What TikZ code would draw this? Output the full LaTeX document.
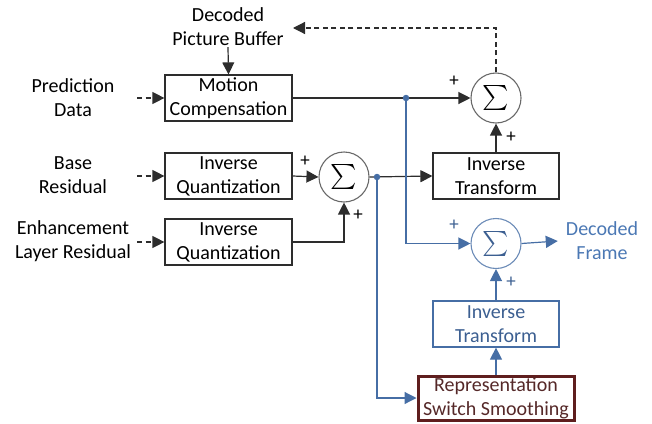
\documentclass[tikz,border=0pt]{standalone}
\usepackage{fontspec}
\usepackage{graphicx}
\setmainfont{Carlito}
\usetikzlibrary{arrows.meta}

\definecolor{wire}{RGB}{45,45,45}
\definecolor{ringgray}{RGB}{105,105,105}
\definecolor{bluewire}{RGB}{70,110,165}
\definecolor{bluetext}{RGB}{75,120,180}
\definecolor{blueink}{RGB}{60,95,145}
\definecolor{maroon}{RGB}{95,30,30}
\definecolor{maroontext}{RGB}{85,40,40}

\newcommand{\bigsum}{\scalebox{2.5}{$\sum$}}

\tikzset{
  x=1pt, y=-1pt,
  lbl/.style={font=\fontsize{20}{24}\selectfont, align=center, inner sep=1pt},
  blk/.style={draw=wire, line width=1.2pt, minimum width=127pt, minimum height=46pt,
              inner sep=0pt, align=center, font=\fontsize{20}{24}\selectfont},
  bblk/.style={blk, draw=bluewire, text=blueink},
  rssblk/.style={blk, draw=maroon, line width=3pt, text=maroontext, minimum width=156pt, minimum height=44pt},
  summer/.style={circle, draw=ringgray, line width=1.1pt, minimum size=50pt, inner sep=0pt},
  bsummer/.style={summer, draw=bluewire!80, text=blueink},
  tip/.style={-{Triangle[length=12pt,width=12pt]}},
  conn/.style={draw=wire, line width=1.2pt},
  bconn/.style={draw=bluewire, line width=1.2pt},
  dconn/.style={conn, dash pattern=on 5pt off 3.5pt},
  sign/.style={font=\fontsize{19}{20}\selectfont, inner sep=0pt},
  jdot/.style={circle, fill=bluewire, inner sep=0pt, minimum size=6.5pt}
}

\begin{document}
\begin{tikzpicture}
\useasboundingbox (0,0) rectangle (652,423);

% input labels
\node[lbl] (pd)  at (73,98)  {Prediction\\Data};
\node[lbl] (br)  at (73,175) {Base\\Residual};
\node[lbl] (elr) at (73,241) {Enhancement\\Layer Residual};
\node[lbl] (dpb) at (228,27) {Decoded\\Picture Buffer};

% base layer blocks
\node[blk] (mc)  at (228.5,98)  {Motion\\Compensation};
\node[blk] (iqb) at (228.5,176) {Inverse\\Quantization};
\node[blk] (iqe) at (228.5,242) {Inverse\\Quantization};
\node[summer] (s1) at (344,177) {\bigsum};
\node[blk, minimum width=126pt] (itt) at (496,176) {Inverse\\Transform};
\node[summer] (st) at (496,98) {\bigsum};

% enhancement path blocks
\node[bsummer] (sb) at (496,243.5) {\bigsum};
\node[bblk, minimum width=126pt] (itb) at (496,324) {Inverse\\Transform};
\node[rssblk] (rss) at (496,398) {Representation\\Switch Smoothing};
\node[lbl, text=bluetext] (frame) at (602,241) {Decoded\\Frame};

% entry points of the dashed inputs
\coordinate (pdin)  at (137,98);
\coordinate (brin)  at (137,176);
\coordinate (elrin) at (137,242);
\coordinate (fb)    at (293,28);

% junctions
\coordinate (j1) at (406,98);
\coordinate (j2) at (377,177);

% dashed inputs
\draw[dconn, tip] (pdin) -- (mc.west);
\draw[dconn, tip] (brin) -- (iqb.west);
\draw[dconn, tip] (elrin) -- (iqe.west);
\draw[dconn, tip] (st.north) |- (fb);

% base layer connectors
\draw[conn, tip] (dpb.south) -- (mc.north);
\draw[conn, tip] (mc.east) -- (st.west);
\draw[conn, tip] (iqb.east) -- (s1.west);
\draw[conn, tip] (iqe.east) -| (s1.south);
\draw[conn, tip] (s1.east) -- (itt.west);
\draw[conn, tip] (itt.north) -- (st.south);

% enhancement connectors
\draw[bconn, tip] (j1) |- (sb.west);
\draw[bconn, tip] (j2) |- (rss.west);
\draw[bconn, tip] (rss.north) -- (itb.south);
\draw[bconn, tip] (itb.north) -- (sb.south);
\draw[bconn, tip] (sb.east) -- ([xshift=-7pt]frame.west);

\node[jdot] at (j1) {};
\node[jdot] at (j2) {};

% signs
\node[sign] at (305,161) {+};
\node[sign] at (358,215) {+};
\node[sign] at (454,81)  {+};
\node[sign] at (511,137) {+};
\node[sign, text=blueink] at (454,225) {+};
\node[sign, text=blueink] at (511,282) {+};
\end{tikzpicture}
\end{document}
